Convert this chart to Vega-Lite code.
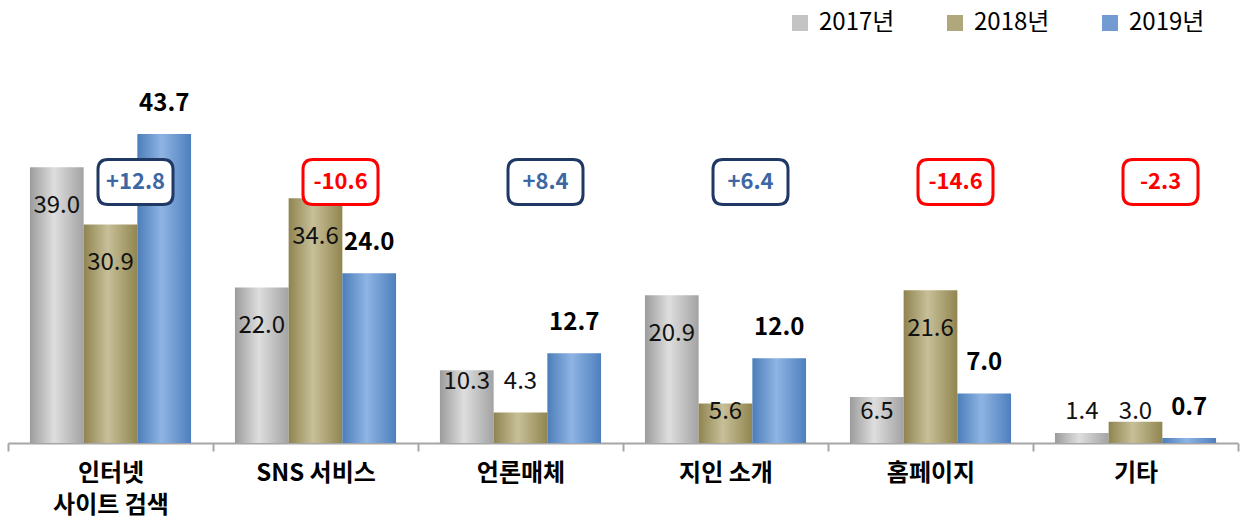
{
  "$schema": "https://vega.github.io/schema/vega-lite/v6.json",
  "width": 1230,
  "height": 389,
  "autosize": {"type": "none"},
  "padding": {"left": 8, "top": 54, "right": 5, "bottom": 79},
  "background": "white",
  "config": {"view": {"stroke": null}, "font": "Noto Sans CJK KR"},
  "data": {
    "values": [
      {"category": "인터넷 사이트 검색", "year": "2017년", "value": 39.0},
      {"category": "인터넷 사이트 검색", "year": "2018년", "value": 30.9},
      {"category": "인터넷 사이트 검색", "year": "2019년", "value": 43.7},
      {"category": "SNS 서비스", "year": "2017년", "value": 22.0},
      {"category": "SNS 서비스", "year": "2018년", "value": 34.6},
      {"category": "SNS 서비스", "year": "2019년", "value": 24.0},
      {"category": "언론매체", "year": "2017년", "value": 10.3},
      {"category": "언론매체", "year": "2018년", "value": 4.3},
      {"category": "언론매체", "year": "2019년", "value": 12.7},
      {"category": "지인 소개", "year": "2017년", "value": 20.9},
      {"category": "지인 소개", "year": "2018년", "value": 5.6},
      {"category": "지인 소개", "year": "2019년", "value": 12.0},
      {"category": "홈페이지", "year": "2017년", "value": 6.5},
      {"category": "홈페이지", "year": "2018년", "value": 21.6},
      {"category": "홈페이지", "year": "2019년", "value": 7.0},
      {"category": "기타", "year": "2017년", "value": 1.4},
      {"category": "기타", "year": "2018년", "value": 3.0},
      {"category": "기타", "year": "2019년", "value": 0.7}
    ]
  },
  "encoding": {
    "x": {
      "field": "category",
      "type": "nominal",
      "sort": null,
      "scale": {
        "domain": ["인터넷 사이트 검색", "SNS 서비스", "언론매체", "지인 소개", "홈페이지", "기타"],
        "paddingInner": 0,
        "paddingOuter": 0
      },
      "axis": {
        "title": null,
        "labelAngle": 0,
        "labelFont": "Noto Sans CJK KR",
        "labelFontSize": 24,
        "labelFontWeight": "bold",
        "labelColor": "#000000",
        "labelPadding": 10,
        "labelLineHeight": 32,
        "tickBand": "extent",
        "tickSize": 8,
        "tickWidth": 2,
        "tickColor": "#A6A6A6",
        "domainColor": "#A6A6A6",
        "domainWidth": 2,
        "labelExpr": "datum.label == '인터넷 사이트 검색' ? ['인터넷', '사이트 검색'] : datum.label"
      }
    }
  },
  "layer": [
    {
      "transform": [{"filter": "datum.year == '2017년'"}],
      "mark": {"type": "bar", "fill": {"gradient": "linear", "x1": 0, "y1": 0, "x2": 1, "y2": 0, "stops": [{"offset": 0, "color": "#9C9C9C"}, {"offset": 0.45, "color": "#DEDEDE"}, {"offset": 1, "color": "#A3A3A3"}]}},
      "encoding": {
        "xOffset": {"field": "year", "type": "nominal", "scale": {"domain": ["2017년", "2018년", "2019년"], "paddingInner": 0, "paddingOuter": 0.4085}},
        "y": {"field": "value", "type": "quantitative", "scale": {"domain": [0, 55]}, "axis": null}
      }
    },
    {
      "transform": [{"filter": "datum.year == '2018년'"}],
      "mark": {"type": "bar", "fill": {"gradient": "linear", "x1": 0, "y1": 0, "x2": 1, "y2": 0, "stops": [{"offset": 0, "color": "#8F8450"}, {"offset": 0.45, "color": "#C7BF98"}, {"offset": 1, "color": "#918650"}]}},
      "encoding": {
        "xOffset": {"field": "year", "type": "nominal"},
        "y": {"field": "value", "type": "quantitative"}
      }
    },
    {
      "transform": [{"filter": "datum.year == '2019년'"}],
      "mark": {"type": "bar", "fill": {"gradient": "linear", "x1": 0, "y1": 0, "x2": 1, "y2": 0, "stops": [{"offset": 0, "color": "#4C7DBA"}, {"offset": 0.45, "color": "#8EB4E3"}, {"offset": 1, "color": "#4E7FBD"}]}},
      "encoding": {
        "xOffset": {"field": "year", "type": "nominal"},
        "y": {"field": "value", "type": "quantitative"}
      }
    },
    {
      "transform": [{"filter": "false"}],
      "mark": {"type": "bar"},
      "encoding": {
        "xOffset": {"field": "year", "type": "nominal"},
        "y": {"field": "value", "type": "quantitative"},
        "fill": {
          "field": "year",
          "type": "nominal",
          "scale": {"domain": ["2017년", "2018년", "2019년"], "range": ["#C4C4C4", "#B0A87C", "#729CD1"]},
          "legend": {
            "orient": "none",
            "legendX": 780,
            "legendY": -43,
            "direction": "horizontal",
            "title": null,
            "padding": 0,
            "symbolType": "square",
            "symbolSize": 256,
            "symbolStrokeWidth": 0,
            "labelFont": "Noto Sans CJK KR",
            "labelFontSize": 24,
            "labelColor": "#000000",
            "labelOffset": 7,
            "columnPadding": 48,
            "encode": {
              "symbols": {
                "update": {
                  "fill": {"signal": "datum.label == '2017년' ? {gradient: 'linear', x1: 0, y1: 0, x2: 1, y2: 0, stops: [{offset: 0, color: '#9C9C9C'}, {offset: 0.45, color: '#DEDEDE'}, {offset: 1, color: '#A3A3A3'}]} : datum.label == '2018년' ? {gradient: 'linear', x1: 0, y1: 0, x2: 1, y2: 0, stops: [{offset: 0, color: '#8F8450'}, {offset: 0.45, color: '#C7BF98'}, {offset: 1, color: '#918650'}]} : {gradient: 'linear', x1: 0, y1: 0, x2: 1, y2: 0, stops: [{offset: 0, color: '#4C7DBA'}, {offset: 0.45, color: '#8EB4E3'}, {offset: 1, color: '#4E7FBD'}]}"}
                }
              }
            }
          }
        }
      }
    },
    {
      "transform": [
        {"filter": "datum.year != '2019년'"},
        {"calculate": "datum.value > 15 ? datum.value - 5.45 : (datum.category == '언론매체' ? 8.6 : 4.4)", "as": "labelPos"}
      ],
      "mark": {"type": "text", "fontSize": 24, "color": "#111111", "baseline": "middle"},
      "encoding": {
        "xOffset": {"field": "year", "type": "nominal"},
        "y": {"field": "labelPos", "type": "quantitative"},
        "text": {"field": "value", "type": "quantitative", "format": ".1f"}
      }
    },
    {
      "transform": [{"filter": "datum.year == '2019년'"}],
      "mark": {"type": "text", "fontSize": 24, "fontWeight": "bold", "color": "#000000", "baseline": "middle", "dy": -30},
      "encoding": {
        "xOffset": {"field": "year", "type": "nominal"},
        "y": {"field": "value", "type": "quantitative"},
        "text": {"field": "value", "type": "quantitative", "format": ".1f"}
      }
    },
    {
      "data": {
        "values": [
          {"category": "인터넷 사이트 검색", "diff": "+12.8", "pos": true},
          {"category": "SNS 서비스", "diff": "-10.6", "pos": false},
          {"category": "언론매체", "diff": "+8.4", "pos": true},
          {"category": "지인 소개", "diff": "+6.4", "pos": true},
          {"category": "홈페이지", "diff": "-14.6", "pos": false},
          {"category": "기타", "diff": "-2.3", "pos": false}
        ]
      },
      "layer": [
        {
          "mark": {
            "type": "point",
            "shape": "M -0.733,-0.6 L 0.733,-0.6 Q 1,-0.6 1,-0.333 L 1,0.333 Q 1,0.6 0.733,0.6 L -0.733,0.6 Q -1,0.6 -1,0.333 L -1,-0.333 Q -1,-0.6 -0.733,-0.6 Z",
            "size": 5625,
            "filled": true,
            "fill": "white",
            "opacity": 1,
            "strokeWidth": 3,
            "xOffset": 25
          },
          "encoding": {
            "y": {"datum": 36.9, "type": "quantitative"},
            "stroke": {"condition": {"test": "datum.pos", "value": "#1F3864"}, "value": "#FF0000"}
          }
        },
        {
          "mark": {"type": "text", "fontSize": 22, "fontWeight": "bold", "dx": 25, "baseline": "middle"},
          "encoding": {
            "y": {"datum": 36.9, "type": "quantitative"},
            "text": {"field": "diff"},
            "color": {"condition": {"test": "datum.pos", "value": "#3D67A3"}, "value": "#FF0000"}
          }
        }
      ]
    }
  ]
}
